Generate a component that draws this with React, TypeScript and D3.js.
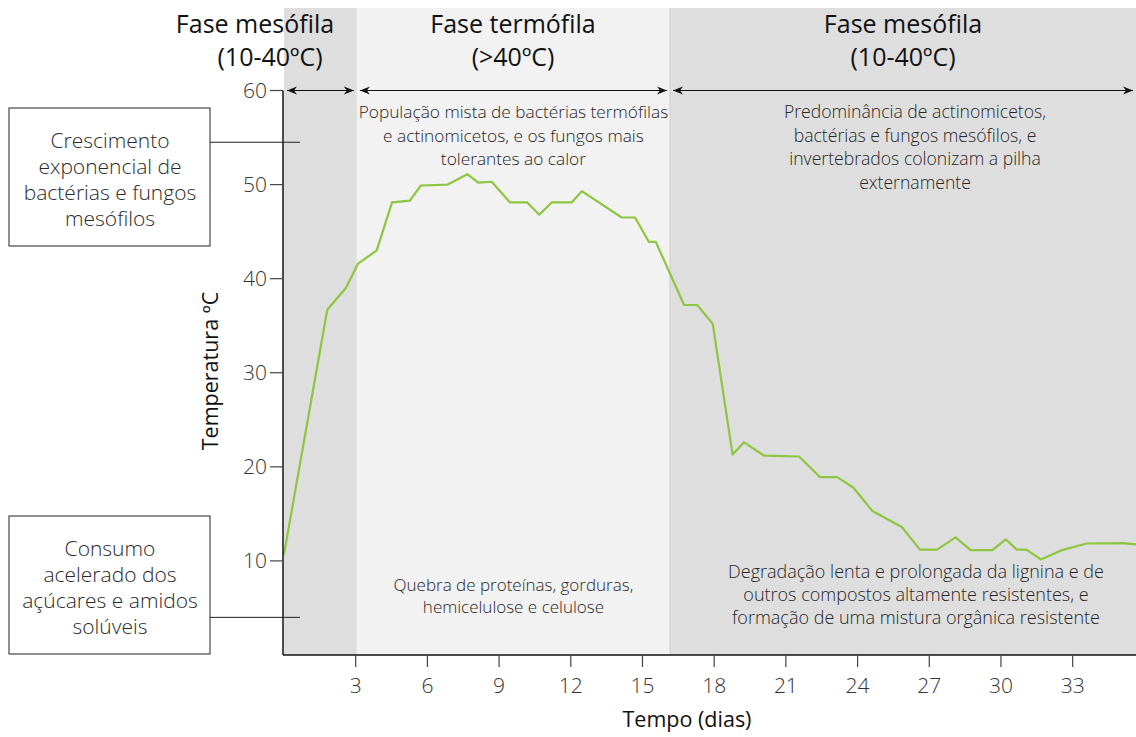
import React from "react";
import * as d3 from "d3";

const days = [0, 1.81, 2.59, 3.1, 3.88, 4.52, 5.27, 5.72, 6.85, 7.67, 8.13, 8.69, 9.46, 10.18, 10.68, 11.2, 12.04, 12.46, 14.13, 14.69, 15.27, 15.56, 16.74, 17.29, 17.94, 18.77, 19.25, 20.08, 21.55, 22.43, 23.15, 23.82, 24.62, 25.85, 26.61, 27.33, 28.1, 28.73, 29.64, 30.2, 30.66, 31.07, 31.67, 32.56, 33.58, 35.12, 35.65];
const temps = [10.7, 36.7, 39.0, 41.6, 43.0, 48.1, 48.3, 49.9, 50.0, 51.1, 50.2, 50.3, 48.1, 48.1, 46.8, 48.1, 48.1, 49.3, 46.5, 46.5, 43.9, 43.9, 37.2, 37.2, 35.2, 21.3, 22.6, 21.2, 21.1, 18.9, 18.9, 17.8, 15.3, 13.6, 11.2, 11.2, 12.5, 11.15, 11.15, 12.3, 11.2, 11.2, 10.15, 11.15, 11.85, 11.9, 11.75];

const xTicks = [3, 6, 9, 12, 15, 18, 21, 24, 27, 30, 33];
const yTicks = [10, 20, 30, 40, 50, 60];

const phaseBounds = [0, 3.05, 16.15, 35.65];
const phaseFills = ["#dedede", "#f2f2f2", "#dedede"];
const phaseTitles = [["Fase mesófila", "(10-40ºC)"], ["Fase termófila", "(>40ºC)"], ["Fase mesófila", "(10-40ºC)"]];

const topNotes = [
  [],
  ["População mista de bactérias termófilas", "e actinomicetos, e os fungos mais", "tolerantes ao calor"],
  ["Predominância de actinomicetos,", "bactérias e fungos mesófilos, e", "invertebrados colonizam a pilha", "externamente"],
];
const bottomNotes = [
  [],
  ["Quebra de proteínas, gorduras,", "hemicelulose e celulose"],
  ["Degradação lenta e prolongada da lignina e de", "outros compostos altamente resistentes, e", "formação de uma mistura orgânica resistente"],
];
const sideBoxes = [
  { lines: ["Crescimento", "exponencial de", "bactérias e fungos", "mesófilos"], level: 54.5 },
  { lines: ["Consumo", "acelerado dos", "açúcares e amidos", "solúveis"], level: 4 },
];

const FONT = "'Open Sans', sans-serif";

export default function App() {
  const W = 1136, H = 737;
  const x = d3.scaleLinear().domain([0, 35.65]).range([284, 1136]);
  const y = d3.scaleLinear().domain([0, 60]).range([655, 90.5]);
  const top = 8;
  const pts = days.map((d, i) => [d, temps[i]] as [number, number]);
  const line = d3.line<[number, number]>().x(d => x(d[0])).y(d => y(d[1]));
  const titleCenters = [255, 513, 903];
  const titleCenters2 = [270, 513, 903];
  const topSizes = [17, 17.3, 17.6];
  const bottomSizes = [17, 17, 18];

  return (
    <svg width={W} height={H} style={{ position: "absolute", left: 0, top: 0 }} fontFamily={FONT}>
      <defs>
        <marker id="ah" viewBox="0 0 10 10" refX="10" refY="5" markerWidth="10" markerHeight="10" markerUnits="userSpaceOnUse" orient="auto-start-reverse">
          <path d="M0,1 L10,5 L0,9 L3,5 Z" fill="#111" />
        </marker>
      </defs>
      <rect x={0} y={0} width={W} height={H} fill="#fff" />
      {phaseFills.map((f, i) => (
        <rect key={i} x={x(phaseBounds[i])} y={top} width={x(phaseBounds[i + 1]) - x(phaseBounds[i])} height={y(0) - top} fill={f} />
      ))}
      <line x1={x(phaseBounds[2])} x2={x(phaseBounds[2])} y1={top} y2={y(0)} stroke="#cfcfcf" strokeWidth={1} />
      {phaseTitles.map((t, i) => (
        <g key={i} fontSize={25} fill="#111" textAnchor="middle">
          <text x={titleCenters[i]} y={33}>{t[0]}</text>
          <text x={titleCenters2[i]} y={66}>{t[1]}</text>
        </g>
      ))}
      {phaseBounds.slice(0, 3).map((b, i) => (
        <line key={i} x1={x(b) + 3} x2={x(phaseBounds[i + 1]) - 3} y1={y(60)} y2={y(60)} stroke="#111" strokeWidth={1.2} markerStart="url(#ah)" markerEnd="url(#ah)" />
      ))}
      {topNotes.map((lines, i) => {
        const cx = i === 2 ? 915 : (x(phaseBounds[i]) + x(phaseBounds[i + 1])) / 2;
        return lines.map((l, j) => (
          <text key={i + "-" + j} x={cx} y={118 + j * 23.5} fontSize={topSizes[i]} fill="#262626" textAnchor="middle" fontWeight={300}>{l}</text>
        ));
      })}
      {bottomNotes.map((lines, i) => {
        const cx = i === 2 ? 916 : (x(phaseBounds[i]) + x(phaseBounds[i + 1])) / 2;
        const y0 = i === 2 ? 578 : 591;
        const step = i === 2 ? 23 : 22;
        return lines.map((l, j) => (
          <text key={i + "-" + j} x={cx} y={y0 + j * step} fontSize={bottomSizes[i]} fill="#262626" textAnchor="middle" fontWeight={300}>{l}</text>
        ));
      })}
      {sideBoxes.map((b, i) => {
        const by = i === 0 ? 108 : 516;
        const ly = y(b.level);
        return (
          <g key={i}>
            <rect x={9} y={by} width={201} height={138} fill="#fff" stroke="#222" strokeWidth={1} />
            <line x1={210} x2={300} y1={ly} y2={ly} stroke="#222" strokeWidth={1} />
            {b.lines.map((l, j) => (
              <text key={j} x={110} y={by + 40 + j * 26} fontSize={21} fill="#2a2a2a" textAnchor="middle" fontWeight={300}>{l}</text>
            ))}
          </g>
        );
      })}
      <path d={line(pts) || ""} fill="none" stroke="#8dc63f" strokeWidth={2.2} strokeLinejoin="round" />
      <line x1={283} x2={283} y1={y(60)} y2={y(0)} stroke="#111" strokeWidth={1.5} />
      <line x1={283} x2={W} y1={y(0)} y2={y(0)} stroke="#111" strokeWidth={1.5} />
      {yTicks.map(t => (
        <g key={t}>
          <line x1={270} x2={283} y1={y(t)} y2={y(t)} stroke="#444" strokeWidth={1.2} />
          <text x={267} y={y(t) + 7.5} fontSize={21} fill="#333" textAnchor="end" fontWeight={300}>{t}</text>
        </g>
      ))}
      {xTicks.map(t => (
        <g key={t}>
          <line x1={x(t)} x2={x(t)} y1={y(0)} y2={y(0) + 12} stroke="#444" strokeWidth={1.2} />
          <text x={x(t)} y={693} fontSize={21} fill="#333" textAnchor="middle" fontWeight={300}>{t}</text>
        </g>
      ))}
      <text x={687} y={727} fontSize={21.5} fill="#111" textAnchor="middle">Tempo (dias)</text>
      <text transform="translate(218,371) rotate(-90)" fontSize={21.5} fill="#111" textAnchor="middle">Temperatura ºC</text>
    </svg>
  );
}
